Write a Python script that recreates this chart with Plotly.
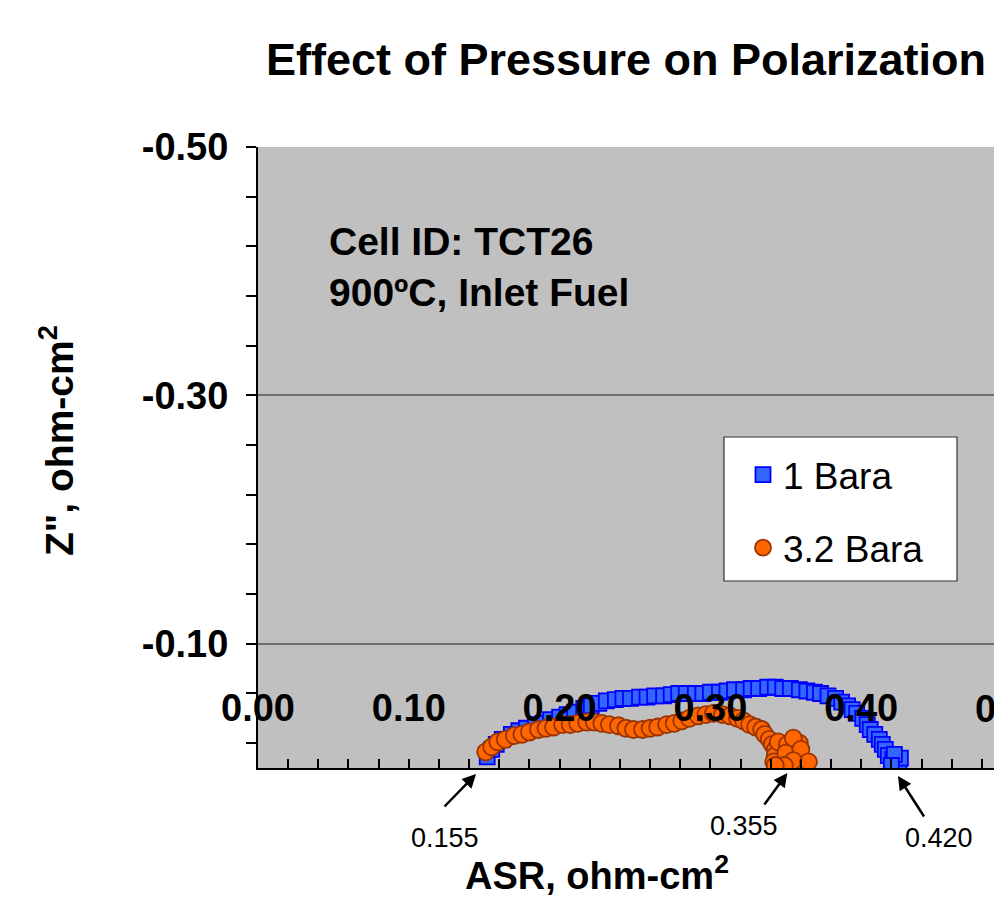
import plotly.graph_objects as go

# ---------------- data ----------------
bara1_x = [0.152, 0.155, 0.158, 0.162, 0.168, 0.173, 0.178, 0.184, 0.189, 0.194,
           0.200, 0.205, 0.210, 0.216, 0.221, 0.226, 0.231, 0.237, 0.242, 0.247,
           0.253, 0.258, 0.263, 0.269, 0.274, 0.279, 0.284, 0.290, 0.295, 0.300,
           0.306, 0.311, 0.316, 0.322, 0.327, 0.332, 0.338, 0.343, 0.348, 0.353,
           0.359, 0.364, 0.369, 0.373, 0.378, 0.383, 0.387, 0.391, 0.394, 0.397,
           0.401, 0.404, 0.406, 0.409, 0.412, 0.414, 0.416, 0.418, 0.421, 0.423,
           0.425, 0.426, 0.422, 0.420]
bara1_y = [-0.009, -0.015, -0.019, -0.023, -0.027, -0.030, -0.032, -0.035, -0.036, -0.039,
           -0.041, -0.043, -0.045, -0.048, -0.050, -0.052, -0.054, -0.055, -0.056, -0.056,
           -0.057, -0.057, -0.058, -0.058, -0.059, -0.060, -0.060, -0.060, -0.060, -0.061,
           -0.061, -0.062, -0.063, -0.063, -0.064, -0.064, -0.065, -0.065, -0.064, -0.064,
           -0.063, -0.062, -0.061, -0.060, -0.058, -0.056, -0.053, -0.050, -0.047, -0.044,
           -0.040, -0.035, -0.031, -0.027, -0.023, -0.019, -0.015, -0.010, -0.007, -0.005,
           -0.003, -0.008, -0.011, -0.002]

bara32_x = [0.151, 0.155, 0.159, 0.164, 0.170, 0.175, 0.180, 0.186, 0.191, 0.196,
            0.202, 0.207, 0.212, 0.218, 0.223, 0.228, 0.233, 0.239, 0.244, 0.249,
            0.255, 0.260, 0.265, 0.271, 0.276, 0.281, 0.286, 0.292, 0.297, 0.302,
            0.308, 0.313, 0.318, 0.322, 0.326, 0.330, 0.334, 0.336, 0.339, 0.341,
            0.343, 0.343, 0.342, 0.345, 0.351, 0.359, 0.350, 0.355, 0.360, 0.355,
            0.365, 0.349, 0.343]
bara32_y = [-0.013, -0.017, -0.021, -0.023, -0.026, -0.027, -0.029, -0.031, -0.032, -0.033,
            -0.035, -0.035, -0.036, -0.037, -0.037, -0.036, -0.035, -0.034, -0.032, -0.031,
            -0.031, -0.032, -0.033, -0.035, -0.036, -0.038, -0.040, -0.042, -0.043, -0.044,
            -0.043, -0.042, -0.040, -0.038, -0.035, -0.033, -0.031, -0.027, -0.023, -0.019,
            -0.015, -0.010, -0.005, -0.021, -0.019, -0.020, -0.012, -0.024, -0.015, -0.006,
            -0.005, -0.002, -0.002]

series_names = ["1 Bara", "3.2 Bara"]

x_major = [0.0, 0.1, 0.2, 0.3, 0.4, 0.5]
x_major_text = ["0.00", "0.10", "0.20", "0.30", "0.40", "0.50"]
x_minor = [round(0.02 * i, 2) for i in range(26)]
y_major = [-0.5, -0.3, -0.1]
y_major_text = ["-0.50", "-0.30", "-0.10"]
y_minor = [round(-0.5 + 0.04 * i, 2) for i in range(13)]

callout_text = ["0.155", "0.355", "0.420"]
callout_tip_x = [0.1446, 0.351, 0.4244]
callout_label_x = [0.124, 0.322, 0.4516]

title_text = "Effect of Pressure on Polarization"
info_text = "Cell ID: TCT26<br>900ºC, Inlet Fuel"
x_title = "ASR, ohm-cm<sup>2</sup>"
y_title = "Z\", ohm-cm<sup>2</sup>"

# ---------------- figure ----------------
FONT = "Arial, Liberation Sans, sans-serif"
OFF = 8                      # default page margin of the html body
W, H = 1002 - OFF, 898 - OFF
PLOT_L, PLOT_T, PLOT_B = 258, 147, 768   # page pixels of the plot area
ML, MT = PLOT_L - OFF, PLOT_T - OFF
MB = H - (PLOT_B - OFF)
PW = W - ML
PH = H - MT - MB
X_PER_UNIT = 1508.0

def px_x(p):               # page pixel -> paper x
    return (p - PLOT_L) / PW

def px_y(p):               # page pixel -> paper y
    return (PLOT_B - p) / PH

fig = go.Figure()
fig.add_trace(go.Scatter(
    x=bara1_x, y=bara1_y, mode="markers", name=series_names[0], legendgroup="a",
    marker=dict(symbol="square", size=15, color="#3366FF",
                line=dict(color="#0000FF", width=1.8)),
))
fig.add_trace(go.Scatter(
    x=bara32_x, y=bara32_y, mode="markers", name=series_names[1], legendgroup="b",
    marker=dict(symbol="circle", size=17, color="#FF6600",
                line=dict(color="#993300", width=1.8)),
))

annotations = []
annotations.append(dict(text=info_text, xref="paper", yref="paper",
                        x=px_x(327), y=px_y(267), xanchor="left", yanchor="middle",
                        align="left", showarrow=False,
                        font=dict(family=FONT, size=39, color="black", weight="bold")))
annotations.append(dict(text=x_title, xref="paper", yref="paper",
                        x=px_x(597), y=px_y(873), xanchor="center", yanchor="middle",
                        showarrow=False,
                        font=dict(family=FONT, size=38, color="black", weight="bold")))
annotations.append(dict(text=y_title, xref="paper", yref="paper",
                        x=px_x(56), y=px_y(441), xanchor="center", yanchor="middle",
                        textangle=-90, showarrow=False,
                        font=dict(family=FONT, size=39, color="black", weight="bold")))
# last x tick label sits past the window edge, drawn as text so it is kept
annotations.append(dict(text=x_major_text[-1], xref="paper", yref="paper",
                        x=px_x(PLOT_L + x_major[-1] * X_PER_UNIT), y=px_y(709),
                        xanchor="center", yanchor="middle", showarrow=False,
                        font=dict(family=FONT, size=38, color="black", weight="bold")))

tails = [(-33, 34), (-24, 33), (27, 42)]
tip_y = [774, 773, 776]
label_y = [838, 826, 838]
for txt, tx, lx, (axo, ayo), ty, ly in zip(callout_text, callout_tip_x, callout_label_x,
                                           tails, tip_y, label_y):
    annotations.append(dict(text="", x=tx, y=px_y(ty), xref="x", yref="paper",
                            showarrow=True, ax=axo, ay=ayo, arrowhead=2,
                            arrowsize=1.1, arrowwidth=2.5, arrowcolor="black",
                            standoff=0, startstandoff=0))
    annotations.append(dict(text=txt, x=lx, y=px_y(ly), xref="x", yref="paper",
                            showarrow=False, xanchor="center", yanchor="middle",
                            font=dict(family=FONT, size=27, color="black")))

# legend frame
shapes = [dict(type="rect", xref="paper", yref="paper",
               x0=px_x(724), x1=px_x(957), y0=px_y(581), y1=px_y(437),
               fillcolor="white", line=dict(color="#333333", width=1.2), layer="below")]

fig.update_layout(
    width=W, height=H,
    margin=dict(l=ML, r=0, t=MT, b=MB, pad=0),
    paper_bgcolor="white",
    plot_bgcolor="#C0C0C0",
    title=dict(text=title_text, xref="container", yref="container",
               x=(626 - OFF) / W, y=1 - (59 - OFF) / H, xanchor="center", yanchor="middle",
               font=dict(family=FONT, size=45, color="black", weight="bold")),
    showlegend=True,
    legend=dict(x=px_x(724), y=px_y(444), xanchor="left", yanchor="top",
                bgcolor="rgba(0,0,0,0)", borderwidth=0,
                font=dict(family=FONT, size=37, color="black"),
                tracegroupgap=22, indentation=19, traceorder="grouped"),
    annotations=annotations,
    shapes=shapes,
)

fig.update_xaxes(
    range=[0, PW / X_PER_UNIT],
    tickmode="array", tickvals=x_major, ticktext=x_major_text,
    ticks="inside", ticklen=9, tickwidth=1.5, tickcolor="black",
    ticklabelposition="inside", ticklabelstandoff=35, ticklabeloverflow="allow",
    tickfont=dict(family=FONT, size=38, color="black", weight="bold"),
    showline=True, linecolor="black", linewidth=2,
    showgrid=False, zeroline=False,
    minor=dict(tickmode="array", tickvals=x_minor, ticks="inside", ticklen=9,
               tickwidth=1.5, tickcolor="black", showgrid=False),
)
fig.update_yaxes(
    range=[0, -0.5],
    tickmode="array", tickvals=y_major, ticktext=y_major_text,
    ticks="outside", ticklen=10, tickwidth=1.5, tickcolor="black",
    ticklabelstandoff=10,
    tickfont=dict(family=FONT, size=38, color="black", weight="bold"),
    showline=True, linecolor="black", linewidth=2,
    showgrid=True, gridcolor="#6E6E6E", gridwidth=1.5, zeroline=False,
    minor=dict(tickmode="array", tickvals=y_minor, ticks="outside", ticklen=10,
               tickwidth=1.5, tickcolor="black", showgrid=False),
)

fig.write_html("out.html")
